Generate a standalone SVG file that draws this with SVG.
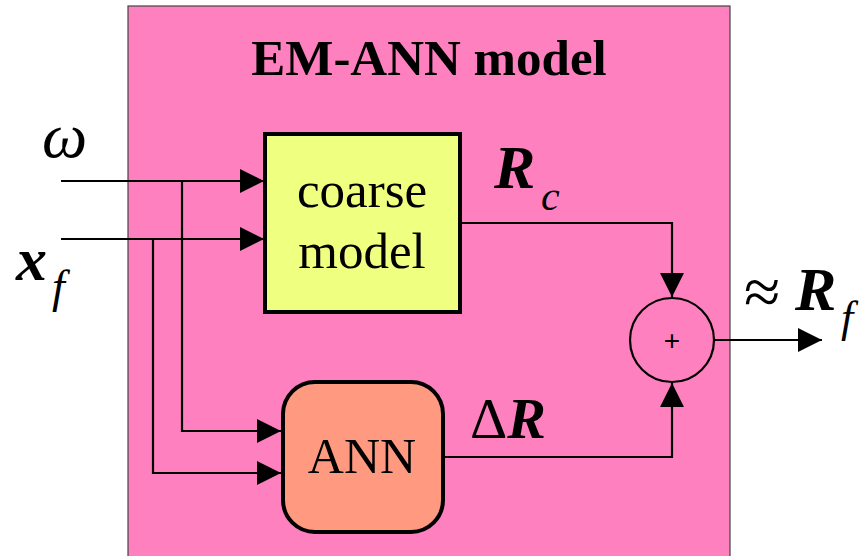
<svg xmlns="http://www.w3.org/2000/svg" width="863" height="556" viewBox="0 0 863 556">
<style>
.ln{fill:none;stroke:#000;stroke-width:2.2}
.tr{font-family:"Liberation Serif","Times New Roman",serif}
.box{stroke:#000;stroke-width:4}
</style>
<defs>
<marker id="ah" viewBox="0 0 24 24" markerWidth="24" markerHeight="24" refX="24" refY="12" orient="auto" markerUnits="userSpaceOnUse">
<path d="M0,0 L24,12 L0,24 Z" fill="#000"/>
</marker>
</defs>
<rect width="863" height="556" fill="#fff"/>
<g id="container">
<rect x="128" y="6" width="602" height="560" fill="#FF80BF" stroke="#444" stroke-width="1.2"/>
<text class="tr" x="429" y="75" font-size="51" font-weight="bold" text-anchor="middle">EM-ANN model</text>
</g>
<g id="coarse">
<rect class="box" x="265" y="134" width="195" height="178" fill="#EFFF80"/>
<text class="tr" x="362" y="207" font-size="51" text-anchor="middle">coarse</text>
<text class="tr" x="362" y="268" font-size="51" text-anchor="middle">model</text>
</g>
<g id="ann">
<rect class="box" x="283" y="382" width="160" height="150" rx="32" fill="#FF9A80"/>
<text class="tr" x="362" y="473" font-size="50" text-anchor="middle">ANN</text>
</g>
<g id="sum">
<circle cx="672" cy="340" r="42" fill="none" stroke="#000" stroke-width="2.2"/>
<text x="672" y="350" font-family="Liberation Sans,Arial,sans-serif" font-size="28" text-anchor="middle">+</text>
</g>
<g id="connectors">
<path class="ln" d="M61,181 H264" marker-end="url(#ah)"/>
<path class="ln" d="M61,239 H264" marker-end="url(#ah)"/>
<path class="ln" d="M182,181 V431 H281" marker-end="url(#ah)"/>
<path class="ln" d="M153,239 V473 H281" marker-end="url(#ah)"/>
<path class="ln" d="M460,223 H672 V297" marker-end="url(#ah)"/>
<path class="ln" d="M443,457 H672 V383" marker-end="url(#ah)"/>
<path class="ln" d="M714,340 H822" marker-end="url(#ah)"/>
</g>
<g id="labels" class="tr">
<text x="42" y="157" font-size="64" font-style="italic">ω</text>
<text x="16" y="280" font-size="62" font-style="italic" font-weight="bold">x</text>
<text x="52" y="302" font-size="46" font-style="italic">f</text>
<text x="494" y="188" font-size="62" font-style="italic" font-weight="bold">R</text>
<text x="541" y="210" font-size="42" font-style="italic">c</text>
<text x="470" y="438" font-size="58">Δ<tspan font-style="italic" font-weight="bold">R</tspan></text>
<text x="744" y="314" font-size="66">≈</text>
<text x="795" y="310" font-size="62" font-style="italic" font-weight="bold">R</text>
<text x="841" y="332" font-size="44" font-style="italic">f</text>
</g>
</svg>
